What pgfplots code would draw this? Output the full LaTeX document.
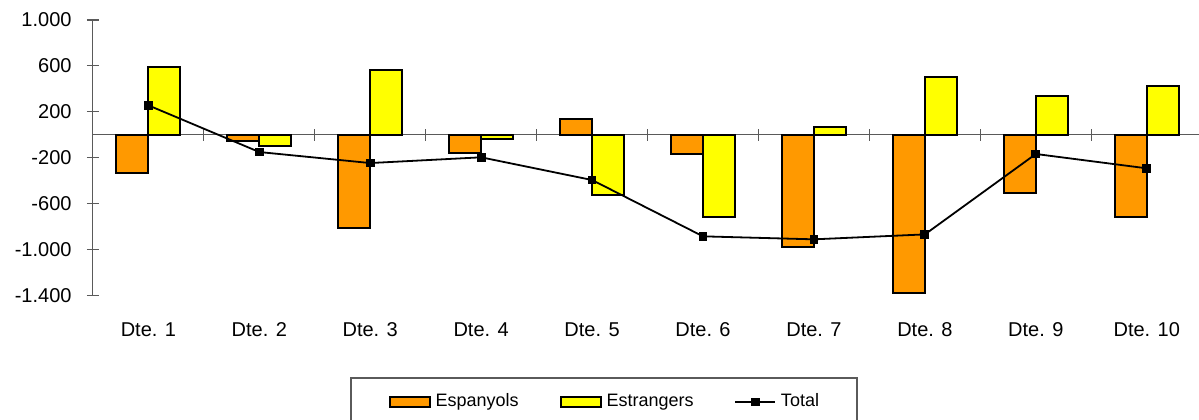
\documentclass[border=0pt]{standalone}
\usepackage{pgfplots}
\pgfplotsset{compat=1.18}
\usepackage{fontspec}
\setmainfont{Liberation Sans}
\definecolor{orangeC}{HTML}{FF9900}
\definecolor{yellowC}{HTML}{FFFF00}
\definecolor{axisgray}{HTML}{5A5A5A}
\begin{document}
\begin{tikzpicture}
% zero line with category separator ticks
\begin{axis}[
  at={(0,0)}, anchor=south west,
  scale only axis,
  width=554.65pt, height=137.65pt,
  xmin=0.5, xmax=10.5,
  ymin=-1400, ymax=1000,
  axis x line=middle,
  axis y line=none,
  x axis line style={axisgray, line width=0.6pt, -},
  xtick={1.5,2.5,...,9.5},
  xticklabels={},
  xtick style={axisgray, line width=0.6pt},
  tick align=center,
  major tick length=6pt,
]
\addplot[draw=none, forget plot] coordinates {(1,0)};
\end{axis}
\begin{axis}[
  at={(0,0)}, anchor=south west,
  scale only axis,
  width=554.65pt, height=137.65pt,
  xmin=0.5, xmax=10.5,
  ymin=-1400, ymax=1000,
  axis y line*=left,
  axis x line*=bottom,
  x axis line style={draw=none},
  y axis line style={axisgray, line width=0.6pt},
  xtick={1,...,10},
  xticklabels={Dte. 1,Dte. 2,Dte. 3,Dte. 4,Dte. 5,Dte. 6,Dte. 7,Dte. 8,Dte. 9,Dte. 10},
  xtick style={draw=none},
  xticklabel style={font=\fontsize{10}{12}\selectfont, inner sep=0pt, anchor=north, yshift=-10.5pt},
  ytick={-1400,-1000,-600,-200,200,600,1000},
  yticklabels={-1.400,-1.000,-600,-200,200,600,1.000},
  ytick style={axisgray, line width=0.6pt},
  tick align=center,
  major tick length=6pt,
  yticklabel style={font=\fontsize{10}{12}\selectfont, inner sep=0pt, anchor=east, xshift=-7.5pt},
  legend columns=3,
  legend style={
    at={(0.23204,-0.29786)}, anchor=north west,
    draw=axisgray, line width=0.6pt,
    inner xsep=19pt, inner ysep=8pt,
    font=\fontsize{9}{11}\selectfont,
    nodes={inner xsep=0pt, inner ysep=0pt},
    /tikz/every odd column/.append style={column sep=2.3pt},
    /tikz/every even column/.append style={column sep=20.5pt},
  },
]
% Espanyols
\addplot[ybar, bar width=16pt, bar shift=-8pt, fill=orangeC, draw=black, line width=1.1pt,
  legend image code/.code={\draw[fill=orangeC, draw=black, line width=1.1pt] (0pt,-2.5pt) rectangle (20pt,2.5pt);}]
  coordinates {(1,-334) (2,-58) (3,-814) (4,-162) (5,134) (6,-171) (7,-979) (8,-1380) (9,-508) (10,-718)};
\addlegendentry{Espanyols}
% Estrangers
\addplot[ybar, bar width=16pt, bar shift=8pt, fill=yellowC, draw=black, line width=1.1pt,
  legend image code/.code={\draw[fill=yellowC, draw=black, line width=1.1pt] (0pt,-2.5pt) rectangle (20pt,2.5pt);}]
  coordinates {(1,590) (2,-96) (3,564) (4,-40) (5,-526) (6,-720) (7,64) (8,506) (9,337) (10,422)};
\addlegendentry{Estrangers}
% Total
\addplot[black, line width=0.9pt, mark=square*, mark size=1.75pt, mark options={solid, fill=black},
  legend image code/.code={\draw[black, line width=0.9pt] (0pt,0pt) -- (20pt,0pt); \fill[black] (8.25pt,-1.75pt) rectangle (11.75pt,1.75pt);}]
  coordinates {(1,256) (2,-151) (3,-247) (4,-197) (5,-395) (6,-886) (7,-912) (8,-869) (9,-168) (10,-293)};
\addlegendentry{Total}
\end{axis}
\pgfresetboundingbox
\path[use as bounding box] (-46.45pt,-61.85pt) rectangle (553.05pt,147.65pt);
\end{tikzpicture}
\end{document}
